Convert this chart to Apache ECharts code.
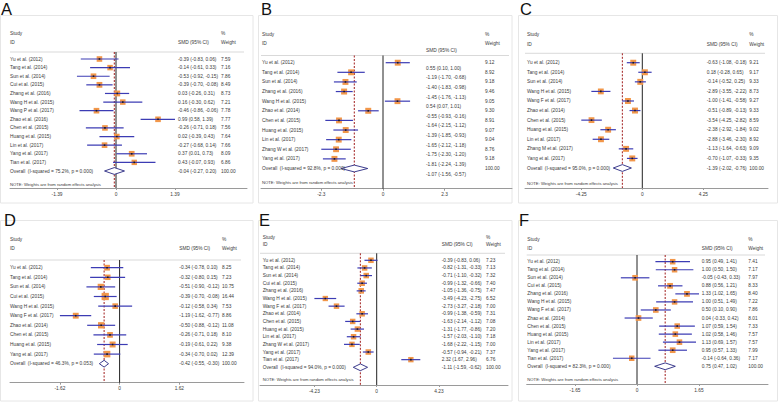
<!DOCTYPE html>
<html><head><meta charset="utf-8">
<script src="https://cdn.jsdelivr.net/npm/echarts@6/dist/echarts.min.js"></script>
<style>html,body{margin:0;padding:0;background:#fff}#c{width:778px;height:402px}</style>
</head><body><div id="c"></div><script>
// ---------- DATA ----------
const studiesA = ['Yu et al. (2012)','Tang et al. (2014)','Sun et al. (2014)','Cui et al. (2015)','Zhang et al. (2016)','Wang H et al. (2015)','Wang P et al. (2017)','Zhao et al. (2016)','Chen et al. (2015)','Huang et al. (2015)','Lin et al. (2017)','Yang et al. (2017)','Tian et al. (2017)'];
const smdA = [-0.39,-0.14,-0.53,-0.39,0.03,0.16,-0.46,0.99,-0.26,0.02,-0.27,0.37,0.43];
const lowA = [-0.83,-0.61,-0.92,-0.70,-0.26,-0.30,-0.86,0.58,-0.71,-0.39,-0.68,0.01,-0.07];
const highA = [0.06,0.33,-0.15,-0.08,0.31,0.62,-0.06,1.39,0.18,0.43,0.14,0.73,0.93];
const weightA = [7.59,7.16,7.86,8.49,8.73,7.21,7.78,7.77,7.56,7.64,7.66,8.09,6.86];
const overallA = [-0.04,-0.27,0.20];
const hetA = 'Overall  (I-squared = 75.2%, p = 0.000)';
const ticksA = [-1.39,0,1.39];

const studiesB = ['Yu et al. (2012)','Tang et al. (2014)','Sun et al. (2014)','Zhang et al. (2016)','Wang H et al. (2015)','Zhao et al. (2014)','Chen et al. (2015)','Huang et al. (2015)','Lin et al. (2017)','Zhang W et al. (2017)','Yang et al. (2017)'];
const smdB = [0.55,-1.19,-1.40,-1.45,0.54,-0.55,-1.64,-1.39,-1.65,-1.75,-1.81];
const lowB = [0.10,-1.70,-1.83,-1.76,0.07,-0.93,-2.15,-1.85,-2.12,-2.30,-2.24];
const highB = [1.00,-0.68,-0.98,-1.13,1.01,-0.16,-1.12,-0.93,-1.18,-1.20,-1.39];
const weightB = [9.12,8.92,9.18,9.46,9.05,9.30,8.91,9.07,9.04,8.76,9.18];
const overallB = [-1.07,-1.56,-0.57];
const hetB = 'Overall  (I-squared = 92.8%, p = 0.000)';
const ticksB = [-2.3,0,2.3];

const studiesC = ['Yu et al. (2012)','Tang et al. (2014)','Sun et al. (2014)','Wang H et al. (2015)','Wang F et al. (2017)','Zhao et al. (2014)','Chen et al. (2015)','Huang et al. (2015)','Lin et al. (2017)','Zhang M et al. (2017)','Yang et al. (2017)'];
const smdC = [-0.63,0.18,-0.14,-2.89,-1.00,-0.51,-3.54,-2.38,-2.88,-1.13,-0.70];
const lowC = [-1.08,-0.28,-0.52,-3.55,-1.41,-0.89,-4.25,-2.92,-3.46,-1.64,-1.07];
const highC = [-0.18,0.65,0.25,-2.22,-0.58,-0.13,-2.82,-1.84,-2.30,-0.63,-0.33];
const weightC = [9.21,9.17,9.33,8.73,9.27,9.33,8.59,9.02,8.92,9.09,9.35];
const overallC = [-1.39,-2.02,-0.76];
const hetC = 'Overall  (I-squared = 95.0%, p = 0.000)';
const ticksC = [-4.25,0,4.25];

const studiesD = ['Yu et al. (2012)','Tang et al. (2014)','Sun et al. (2014)','Cui et al. (2015)','Wang H et al. (2015)','Wang F et al. (2017)','Zhao et al. (2014)','Chen et al. (2015)','Huang et al. (2015)','Yang et al. (2017)'];
const smdD = [-0.34,-0.32,-0.51,-0.39,-0.12,-1.19,-0.50,-0.26,-0.19,-0.34];
const lowD = [-0.78,-0.80,-0.90,-0.70,-0.58,-1.62,-0.88,-0.71,-0.61,-0.70];
const highD = [0.10,0.15,-0.12,-0.08,0.34,-0.77,-0.12,0.18,0.22,0.02];
const weightD = [8.25,7.23,10.75,16.44,7.53,8.86,11.08,8.10,9.38,12.39];
const overallD = [-0.42,-0.55,-0.30];
const hetD = 'Overall  (I-squared = 46.3%, p = 0.053)';
const ticksD = [-1.62,0,1.62];

const studiesE = ['Yu et al. (2012)','Tang et al. (2014)','Sun et al. (2014)','Cui et al. (2015)','Zhang et al. (2016)','Wang H et al. (2015)','Wang F et al. (2017)','Zhao et al. (2014)','Chen et al. (2015)','Huang et al. (2015)','Lin et al. (2017)','Zhang W et al. (2017)','Yang et al. (2017)','Tian et al. (2017)'];
const smdE = [-0.39,-0.82,-0.71,-0.99,-1.05,-3.49,-2.73,-0.99,-1.63,-1.31,-1.57,-1.68,-0.57,2.32];
const lowE = [-0.83,-1.31,-1.10,-1.32,-1.36,-4.23,-3.27,-1.38,-2.14,-1.77,-2.03,-2.22,-0.94,1.67];
const highE = [0.06,-0.33,-0.32,-0.66,-0.75,-2.75,-2.18,-0.59,-1.12,-0.86,-1.10,-1.15,-0.21,2.96];
const weightE = [7.23,7.13,7.32,7.40,7.47,6.52,7.00,7.31,7.08,7.20,7.18,7.00,7.37,6.76];
const overallE = [-1.11,-1.59,-0.62];
const hetE = 'Overall  (I-squared = 94.0%, p = 0.000)';
const ticksE = [-4.23,0,4.23];

const studiesF = ['Yu et al. (2012)','Tang et al. (2014)','Sun et al. (2014)','Cui et al. (2015)','Zhang et al. (2016)','Wang H et al. (2015)','Wang F et al. (2017)','Zhao et al. (2014)','Chen et al. (2015)','Huang et al. (2015)','Lin et al. (2017)','Yang et al. (2017)','Tian et al. (2017)'];
const smdF = [0.95,1.00,-0.05,0.88,1.33,1.00,0.50,0.04,1.07,1.02,1.13,0.95,-0.14];
const lowF = [0.49,0.50,-0.43,0.56,1.02,0.51,0.10,-0.33,0.59,0.58,0.69,0.57,-0.64];
const highF = [1.41,1.50,0.33,1.21,1.65,1.49,0.90,0.42,1.54,1.46,1.57,1.33,0.36];
const weightF = [7.41,7.17,7.97,8.33,8.40,7.22,7.86,8.01,7.33,7.57,7.57,7.99,7.17];
const overallF = [0.75,0.47,1.02];
const hetF = 'Overall  (I-squared = 82.3%, p = 0.000)';
const ticksF = [-1.65,0,1.65];

const noteText = 'NOTE: Weights are from random effects analysis';

// ---------- LAYOUT (pixels) ----------
const layoutA = {letter:[1,9], frame:[0.5,15.5,253,203], left:10, right:247, axisY:188, hdrLineY:52, row0:59, rowLast:171, zeroPx:116, tickPx:175, nameX:10, ciX:178, wX:221, ciDy:0, studyY:33, idY:42, ciHdrY:42, noteY:184.3};
const layoutB = {letter:[261,9], frame:[258.5,15.5,512,203], left:261, right:512, axisY:188.7, hdrLineY:55.5, row0:62.7, rowLast:168.5, zeroPx:383, tickPx:444.7, nameX:262, ciX:426, wX:485, ciDy:5.5, studyY:34, idY:43.5, ciHdrY:50, noteY:182.7};
const layoutC = {letter:[520,9], frame:[518.5,15.5,777.5,203], left:525, right:768, axisY:188, hdrLineY:53.3, row0:62.7, rowLast:168, zeroPx:642.3, tickPx:703.3, nameX:527, ciX:706.7, wX:749.3, ciDy:0, studyY:34, idY:44, ciHdrY:44, noteY:183};
const layoutD = {letter:[4,220], frame:[0.5,220.5,253,401], left:10, right:244, axisY:382.7, hdrLineY:260, row0:267.7, rowLast:363.7, zeroPx:119.6, tickPx:179.3, nameX:10, ciX:179.3, wX:222, ciDy:0, studyY:239.3, idY:248.7, ciHdrY:248.7, noteY:null};
const layoutE = {letter:[259,220], frame:[258.5,220.5,512,401], left:260, right:508, axisY:385, hdrLineY:253.3, row0:260.3, rowLast:367.3, zeroPx:376.7, tickPx:439, nameX:262.7, ciX:441.7, wX:486, ciDy:0, studyY:237.3, idY:244.3, ciHdrY:244.3, noteY:379.3};
const layoutF = {letter:[519,220], frame:[518.5,220.5,777.5,401], left:526.7, right:768, axisY:384, hdrLineY:255, row0:261.7, rowLast:366.3, zeroPx:637, tickPx:699, nameX:527.3, ciX:701.7, wX:748.3, ciDy:0, studyY:239.3, idY:248.7, ciHdrY:248.7, noteY:379};

const panels = [
  {key:'A', names:studiesA, smd:smdA, low:lowA, high:highA, w:weightA, ov:overallA, het:hetA, ticks:ticksA, L:layoutA},
  {key:'B', names:studiesB, smd:smdB, low:lowB, high:highB, w:weightB, ov:overallB, het:hetB, ticks:ticksB, L:layoutB},
  {key:'C', names:studiesC, smd:smdC, low:lowC, high:highC, w:weightC, ov:overallC, het:hetC, ticks:ticksC, L:layoutC},
  {key:'D', names:studiesD, smd:smdD, low:lowD, high:highD, w:weightD, ov:overallD, het:hetD, ticks:ticksD, L:layoutD},
  {key:'E', names:studiesE, smd:smdE, low:lowE, high:highE, w:weightE, ov:overallE, het:hetE, ticks:ticksE, L:layoutE},
  {key:'F', names:studiesF, smd:smdF, low:lowF, high:highF, w:weightF, ov:overallF, het:hetF, ticks:ticksF, L:layoutF}
];

// ---------- STYLE ----------
const FONT = '"Liberation Sans", Arial, sans-serif';
const FS = 4.8;
const TXT = '#3a3a3a';
const f2 = v => v.toFixed(2);

function txt(x, y, s, size, align) {
  return {type:'text', silent:true, style:{x:x, y:y, text:s, fill:TXT, fontSize:size||FS, fontFamily:FONT, verticalAlign:'middle', align:align||'left'}};
}

function refRender(params, api) {
  const cs = params.coordSys;
  const x0 = api.coord([api.value(0), 0])[0];
  const x1 = api.coord([api.value(1), 0])[0];
  return {type:'group', children:[
    {type:'line', shape:{x1:x1, y1:cs.y, x2:x1, y2:cs.y+cs.height}, style:{stroke:'#a01c1c', lineWidth:1, lineDash:[2,1.5]}},
    {type:'line', shape:{x1:x0, y1:cs.y, x2:x0, y2:cs.y+cs.height}, style:{stroke:'#222', lineWidth:1}}
  ]};
}

function makeRowRender(p) {
  const L = p.L;
  return function(params, api) {
    const row = api.value(0), est = api.value(1), lo = api.value(2), hi = api.value(3), w = api.value(4), ov = api.value(5);
    const c = api.coord([est, row]), cl = api.coord([lo, row]), ch = api.coord([hi, row]);
    const y = c[1];
    const label = ov ? p.het : p.names[params.dataIndex];
    const kids = [];
    if (ov) {
      const h = 3.4;
      kids.push({type:'polygon', shape:{points:[[cl[0],y],[c[0],y-h],[ch[0],y],[c[0],y+h]]}, style:{fill:'#fff', stroke:'#262680', lineWidth:0.9}});
    } else {
      const s = 2.0 + 1.3*Math.sqrt(w);
      kids.push({type:'rect', shape:{x:c[0]-s/2, y:y-s/2, width:s, height:s}, style:{fill:'#f2974a'}});
      kids.push({type:'line', shape:{x1:cl[0], y1:y, x2:ch[0], y2:y}, style:{stroke:'#3c3cb4', lineWidth:1.2}});
      kids.push({type:'rect', shape:{x:c[0]-0.8, y:y-0.8, width:1.6, height:1.6}, style:{fill:'#1a1a1a'}});
    }
    kids.push(txt(L.nameX, y, label));
    kids.push(txt(L.ciX, y + L.ciDy, f2(est) + ' (' + f2(lo) + ', ' + f2(hi) + ')'));
    kids.push(txt(L.wX, y, w.toFixed(2)));
    return {type:'group', children:kids};
  };
}

const grids = [], xAxes = [], yAxes = [], series = [], graphics = [];
panels.forEach((p, k) => {
  const L = p.L;
  const n = p.names.length;
  const step = (L.rowLast - L.row0) / n;
  const tmax = p.ticks[p.ticks.length - 1];
  const ppu = (L.tickPx - L.zeroPx) / tmax;
  grids.push({left:L.left, top:L.hdrLineY, width:L.right - L.left, height:L.axisY - L.hdrLineY, containLabel:false});
  xAxes.push({gridIndex:k, type:'value', min:(L.left - L.zeroPx)/ppu, max:(L.right - L.zeroPx)/ppu,
    splitLine:{show:false},
    axisLine:{show:true, onZero:false, lineStyle:{color:'#9a9a9a', width:1}},
    axisTick:{show:true, customValues:p.ticks, length:2, lineStyle:{color:'#9a9a9a'}},
    axisLabel:{customValues:p.ticks, formatter:v => String(v), fontSize:FS, color:TXT, margin:3.5, fontFamily:FONT}});
  yAxes.push({gridIndex:k, type:'value', inverse:true, show:false,
    min:(L.hdrLineY - L.row0)/step, max:(L.axisY - L.row0)/step});
  series.push({type:'custom', xAxisIndex:k, yAxisIndex:k, silent:true, z:1,
    data:[[0, p.ov[0]]], encode:{x:[0,1]}, renderItem:refRender});
  const rows = p.names.map((nm, i) => [i, p.smd[i], p.low[i], p.high[i], p.w[i], 0]);
  rows.push([n, p.ov[0], p.ov[1], p.ov[2], 100, 1]);
  series.push({type:'custom', xAxisIndex:k, yAxisIndex:k, silent:true, z:2,
    data:rows, encode:{x:[1,2,3], y:0}, renderItem:makeRowRender(p)});

  const fr = L.frame;
  graphics.push({type:'rect', silent:true, z:0, shape:{x:fr[0], y:fr[1], width:fr[2]-fr[0], height:fr[3]-fr[1]}, style:{fill:'none', stroke:'#e6e6e6', lineWidth:1}});
  graphics.push({type:'text', silent:true, style:{x:L.letter[0], y:L.letter[1], text:p.key, fill:'#111', fontSize:16.5, fontFamily:FONT, verticalAlign:'middle'}});
  graphics.push({type:'line', silent:true, shape:{x1:L.left, y1:L.hdrLineY, x2:L.right - 3, y2:L.hdrLineY}, style:{stroke:'#cfcfcf', lineWidth:0.8}});
  graphics.push(txt(L.nameX, L.studyY, 'Study'));
  graphics.push(txt(L.nameX, L.idY, 'ID'));
  graphics.push(txt(L.ciX, L.ciHdrY, 'SMD (95% CI)'));
  graphics.push(txt(L.wX, L.studyY, '%'));
  graphics.push(txt(L.wX, L.idY, 'Weight'));
  if (L.noteY !== null) graphics.push(txt(L.nameX, L.noteY, noteText, 4.2));
});

const chart = echarts.init(document.getElementById('c'), null, {renderer:'svg', width:778, height:402});
chart.setOption({
  animation:false,
  backgroundColor:'#fff',
  grid:grids, xAxis:xAxes, yAxis:yAxes, series:series,
  graphic:{elements:graphics}
});
</script></body></html>
